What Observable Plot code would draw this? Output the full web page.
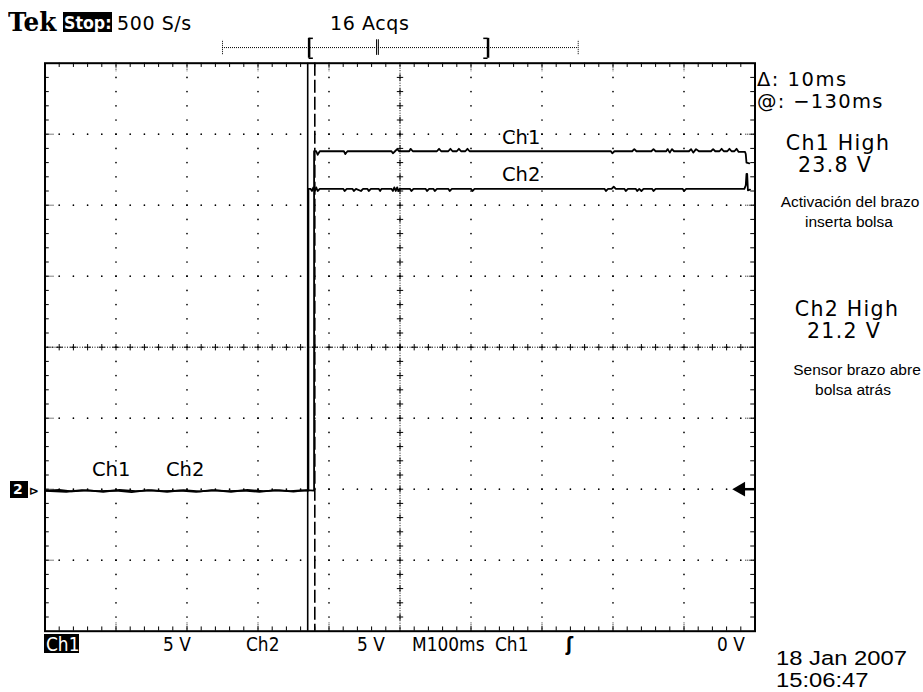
<!DOCTYPE html>
<html>
<head>
<meta charset="utf-8">
<script src="https://cdn.jsdelivr.net/npm/d3@7"></script>
<script src="https://cdn.jsdelivr.net/npm/@observablehq/plot@0.6"></script>
<style>
  body { margin: 0; background: #fff; }
  #wrap { position: relative; width: 923px; height: 692px; overflow: hidden; background: #fff; }
  #wrap svg { position: absolute; left: 0; top: 0; }
  .t { position: absolute; white-space: nowrap; color: #000; }
  .box { position: absolute; background: #000; }
</style>
</head>
<body>
<div id="wrap"></div>
<script>
// ---------- data ----------
const timeDomain = [-500, 500];      // ms, M100ms x 10 divisions
const voltDomain = [-10, 30];        // V, 5 V/div x 8 divisions, ground 2 div below centre
const cursorTimes = [-130, -120];    // @: -130ms, Δ: 10ms
const triggerLevel = 0;              // V
const recordSpan = [-250, 251];      // record bar (top), in screen ms
const recordView = [-128, 124];      // bracketed displayed window
const recordTrig = -33;
const recordBarLevel = 31.1;

// traces [time ms, volts]
const ch1Low = [[-500,-0.1],[-480,-0.05],[-462,-0.15],[-440,-0.08],[-418,-0.18],[-395,-0.05],[-372,-0.14],[-350,-0.08],[-328,-0.18],[-305,-0.06],[-282,-0.15],[-260,-0.08],[-238,-0.18],[-215,-0.05],[-192,-0.14],[-170,-0.08],[-150,-0.17],[-132,-0.06],[-121,-0.1]];
const ch1High = [[-121,23.8],[-118,23.8],[-116,23.55],[-113,23.8],[-79,23.8],[-77,23.6],[-74,23.8],[-12,23.8],[-10,23.65],[-7,23.8],[-4,23.95],[-1,23.8],[13,23.8],[15,23.97],[18,23.8],[52,23.8],[55,23.97],[58,23.8],[68,23.8],[71,23.97],[74,23.8],[80,23.8],[83,23.97],[86,23.8],[92,23.8],[95,23.97],[98,23.8],[297,23.8],[299,23.65],[302,23.8],[327,23.8],[330,23.95],[333,23.8],[354,23.8],[357,23.95],[360,23.8],[375,23.8],[377,23.95],[380,23.7],[383,23.95],[386,23.8],[407,23.8],[410,23.95],[413,23.7],[417,23.95],[421,23.8],[438,23.8],[441,23.95],[444,23.8],[450,23.8],[453,23.97],[456,23.8],[461,23.8],[464,23.97],[467,23.8],[471,23.8],[474,23.97],[477,23.75],[486,23.75],[487,23.6],[488,23.0],[492,22.95]];
const ch2Low = [[-500,-0.12],[-470,-0.18],[-448,-0.06],[-425,-0.14],[-400,-0.1],[-378,-0.2],[-355,-0.07],[-333,-0.14],[-310,-0.1],[-287,-0.19],[-265,-0.06],[-243,-0.13],[-220,-0.1],[-198,-0.19],[-176,-0.06],[-155,-0.13],[-140,-0.09],[-129,-0.1]];
const ch2High = [[-129,21.15],[-126,21.15],[-124,21.0],[-122,21.25],[-120,21.0],[-118,21.25],[-116,21.0],[-113,21.15],[-80,21.15],[-78,21.0],[-75,21.15],[-67,21.15],[-65,21.0],[-62,21.15],[-55,21.0],[-52,21.15],[-46,21.15],[-44,21.0],[-41,21.15],[-30,21.15],[-28,21.0],[-26,21.15],[-12,21.15],[-10,21.0],[-8,21.25],[-6,21.0],[-4,21.25],[-2,21.0],[0,21.15],[14,21.15],[16,21.0],[19,21.15],[36,21.15],[38,21.0],[41,21.15],[47,21.15],[49,21.0],[52,21.15],[68,21.15],[70,21.0],[73,21.15],[100,21.15],[102,21.0],[105,21.15],[288,21.15],[290,21.0],[293,21.15],[298,21.15],[301,21.3],[304,21.15],[316,21.15],[318,21.0],[321,21.15],[332,21.15],[334,21.0],[337,21.15],[340,21.0],[343,21.15],[355,21.15],[357,21.0],[360,21.15],[398,21.15],[400,21.0],[403,21.15],[485,21.15],[487,21.4],[488,22.2],[489,22.2],[490,21.05],[493,21.1]];

// text
const headerTexts = ["Tek", "Stop:", "500 S/s", "16 Acqs"];
const cursorTexts = ["Δ: 10ms", "@: −130ms"];
const measureTexts = ["Ch1 High", "23.8 V", "Activación del brazo", "inserta bolsa", "Ch2 High", "21.2 V", "Sensor brazo abre", "bolsa atrás"];
const traceLabels = ["Ch1", "Ch2"];
const footerTexts = ["Ch1", "5 V", "Ch2", "5 V", "M100ms", "Ch1", "ʃ", "0 V"];
const dateTexts = ["18 Jan 2007", "15:06:47"];

// ---------- graticule derived from scales ----------
const majorX = d3.range(-400, 401, 100).filter(d => d !== 0);
const majorY = d3.range(-5, 30, 5).filter(d => d !== 10);
const minorX = d3.range(-480, 481, 20);
const minorY = d3.range(-9, 30, 1);
const gridDots = [];
for (const x of majorX) for (const y of minorY) gridDots.push({x, y});
for (const y of majorY) for (const x of minorX) gridDots.push({x, y});

const ch1 = ch1Low.concat(ch1High);
const ch2 = ch2Low.concat(ch2High);

const plot = Plot.plot({
  width: 923, height: 692,
  marginLeft: 44.5, marginRight: 168.5, marginTop: 62.7, marginBottom: 61.3,
  x: {domain: timeDomain, axis: null},
  y: {domain: voltDomain, axis: null},
  style: {background: "transparent"},
  marks: [
    Plot.dot(gridDots, {x: "x", y: "y", r: 0.85, fill: "black", stroke: null}),
    Plot.ruleX([0], {stroke: "black", strokeDasharray: "1,1.5", strokeWidth: 1}),
    Plot.ruleY([10], {stroke: "black", strokeDasharray: "1,1.5", strokeWidth: 1}),
    Plot.dot(minorY, {x: 0, y: d => d, symbol: "plus", r: 2.2, stroke: "black", strokeWidth: 1}),
    Plot.dot(minorX, {x: d => d, y: 10, symbol: "plus", r: 2.2, stroke: "black", strokeWidth: 1}),
    // edge ticks
    Plot.ruleX(minorX, {y1: 30, y2: 29.7, stroke: "black", strokeWidth: 1}),
    Plot.ruleX(minorX, {y1: -10, y2: -9.7, stroke: "black", strokeWidth: 1}),
    Plot.ruleX(majorX, {y1: 30, y2: 29.4, stroke: "black", strokeDasharray: "1,1"}),
    Plot.ruleX(majorX, {y1: -10, y2: -9.4, stroke: "black", strokeDasharray: "1,1"}),
    Plot.ruleY(minorY, {x1: -500, x2: -494, stroke: "black", strokeWidth: 1}),
    Plot.ruleY(minorY, {x1: 494, x2: 500, stroke: "black", strokeWidth: 1}),
    Plot.ruleY(majorY.concat([10]), {x1: -500, x2: -487, stroke: "black", strokeDasharray: "1,1"}),
    Plot.ruleY(majorY.concat([10]), {x1: 487, x2: 500, stroke: "black", strokeDasharray: "1,1"}),
    // cursors
    Plot.ruleX([cursorTimes[0]], {stroke: "black", strokeWidth: 1.6}),
    Plot.ruleX([cursorTimes[1]], {stroke: "black", strokeWidth: 1.6, strokeDasharray: "13,4"}),
    // traces
    Plot.line(ch2, {x: d => d[0], y: d => d[1], stroke: "black", strokeWidth: 1.8}),
    Plot.line(ch1, {x: d => d[0], y: d => d[1], stroke: "black", strokeWidth: 1.8}),
    // trigger level arrow
    Plot.ruleY([triggerLevel], {x1: 483, x2: 500, stroke: "black", strokeWidth: 2.5}),
    Plot.dot([triggerLevel], {x: 480, y: d => d, symbol: "triangle", rotate: -90, r: 5.5, fill: "black", stroke: null}),
    // frame
    Plot.frame({stroke: "black", strokeWidth: 2}),
    // record bar at top
    Plot.ruleY([recordBarLevel], {x1: recordSpan[0], x2: recordSpan[1], stroke: "black", strokeWidth: 1, strokeDasharray: "1,1"}),
    Plot.ruleX(recordSpan, {y1: recordBarLevel - 0.5, y2: recordBarLevel + 0.5, stroke: "black", strokeDasharray: "1,1"}),
    Plot.ruleX(recordView, {y1: recordBarLevel - 0.75, y2: recordBarLevel + 0.65, stroke: "black", strokeWidth: 2.5}),
    Plot.ruleY([recordBarLevel + 0.65, recordBarLevel - 0.75], {x1: recordView[0], x2: recordView[0] + 6, stroke: "black", strokeWidth: 1.5}),
    Plot.ruleY([recordBarLevel + 0.65, recordBarLevel - 0.75], {x1: recordView[1] - 6, x2: recordView[1], stroke: "black", strokeWidth: 1.5}),
    Plot.ruleX([recordTrig, recordTrig + 2.5], {y1: recordBarLevel - 0.55, y2: recordBarLevel + 0.55, stroke: "black", strokeWidth: 1})
  ]
});
const wrap = document.getElementById("wrap");
wrap.appendChild(plot);

// ---------- text overlay ----------
const SANS = '"DejaVu Sans", sans-serif';
const ARIAL = '"Liberation Sans", Arial, sans-serif';
function addBox(x, y, w, h) {
  const b = document.createElement("div");
  b.className = "box";
  Object.assign(b.style, {left: x + "px", top: y + "px", width: w + "px", height: h + "px"});
  wrap.appendChild(b);
}
function addText(s, o) {
  const el = document.createElement("div");
  el.className = "t";
  el.textContent = s;
  const fs = o.fs || 19;
  const lh = o.lh || 0.85;
  el.style.fontSize = fs + "px";
  el.style.lineHeight = lh;
  el.style.fontFamily = o.f || SANS;
  el.style.fontWeight = o.w || "normal";
  if (o.color) el.style.color = o.color;
  if (o.ls) el.style.letterSpacing = o.ls + "px";
  el.style.top = (o.b - (lh / 2 + 0.346) * fs) + "px";
  const sx = o.sx ? ` scaleX(${o.sx})` : "";
  el.style.transformOrigin = "0 0";
  if (o.cx != null) {
    el.style.left = o.cx + "px";
    el.style.transform = `translateX(-50%)${sx}`;
  } else {
    el.style.left = o.x + "px";
    if (sx) el.style.transform = sx;
  }
  wrap.appendChild(el);
}

// header
addText(headerTexts[0], {x: 8, b: 31, fs: 26, w: "bold", f: '"DejaVu Serif", serif', sx: 0.95});
addBox(63, 12, 49, 20);
addText(headerTexts[1], {x: 64, b: 29, fs: 18, w: "bold", color: "#fff", sx: 0.88});
addText(headerTexts[2], {x: 117, b: 30, fs: 19, ls: 0.6});
addText(headerTexts[3], {x: 330, b: 30, fs: 19, ls: 0.6});

// cursor readout
addText(cursorTexts[0], {x: 757, b: 87, fs: 19.5, ls: 1.5});
addText(cursorTexts[1], {x: 757, b: 109, fs: 19.5, ls: 1.3});

// measurements
addText(measureTexts[0], {cx: 838, b: 151, fs: 20.5, ls: 1.3});
addText(measureTexts[1], {cx: 835, b: 173, fs: 20.5, ls: 1.3});
addText(measureTexts[2], {cx: 850, b: 207, fs: 15.5, f: ARIAL});
addText(measureTexts[3], {cx: 849, b: 227, fs: 15.5, f: ARIAL});
addText(measureTexts[4], {cx: 847, b: 317, fs: 20.5, ls: 1.3});
addText(measureTexts[5], {cx: 844, b: 339, fs: 20.5, ls: 1.3});
addText(measureTexts[6], {cx: 857, b: 375, fs: 15.5, f: ARIAL});
addText(measureTexts[7], {cx: 853, b: 395, fs: 15.5, f: ARIAL});

// trace labels
addText(traceLabels[0], {x: 502, b: 145, fs: 19.5});
addText(traceLabels[1], {x: 502, b: 182, fs: 19.5});
addText(traceLabels[0], {x: 92, b: 477, fs: 19.5});
addText(traceLabels[1], {x: 166, b: 477, fs: 19.5});

// ground marker
addBox(10, 481, 18, 17);
addText("2", {x: 13, b: 495, fs: 14, w: "bold", color: "#fff"});
addText("⊳", {x: 29, b: 495, fs: 12, w: "bold"});

// footer
addBox(44, 634, 35, 19);
const footX = [46, 163, 246, 357, 412, 495, 566, 717];
footerTexts.forEach((s, i) => addText(s, {x: footX[i], b: 651, fs: 20, sx: 0.85, color: i === 0 ? "#fff" : "#000", w: i === 6 ? "bold" : "normal"}));
addText(dateTexts[0], {x: 776, b: 664.5, fs: 20.5, f: ARIAL, sx: 1.16, lh: 0.75});
addText(dateTexts[1], {x: 776, b: 687.2, fs: 20.5, f: ARIAL, sx: 1.16, lh: 0.75});
</script>
</body>
</html>
